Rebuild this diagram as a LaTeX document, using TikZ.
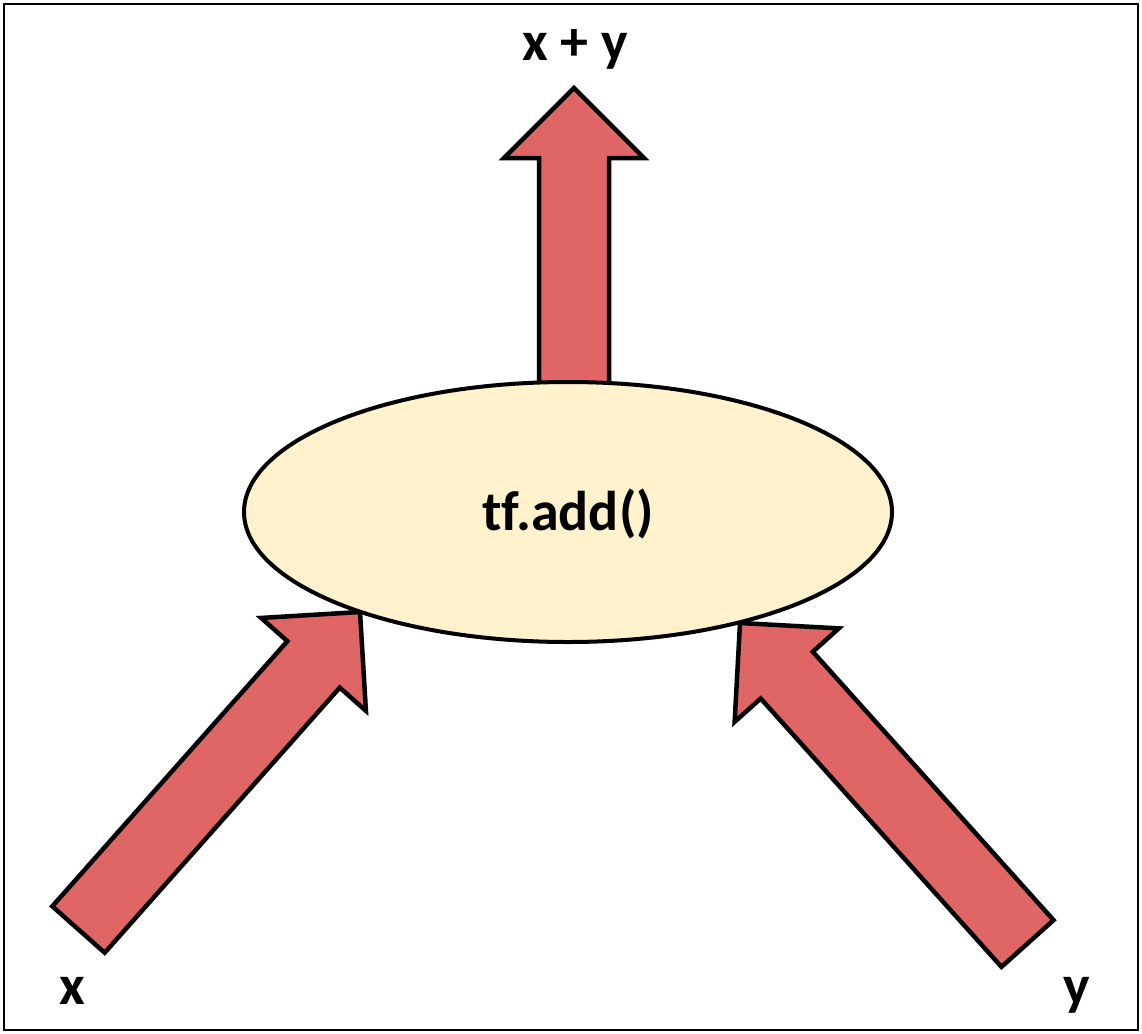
\documentclass[tikz,border=0pt]{standalone}
\usepackage{fontspec}
\setmainfont{Carlito}[Ligatures=NoCommon]
\usepackage{tikz}
\usetikzlibrary{calc,shapes.geometric}

\definecolor{arrowred}{HTML}{E06666}
\definecolor{opyellow}{HTML}{FFF2CC}

\tikzset{
  blockarrow/.style={fill=arrowred, draw=black, line width=4.5pt, line join=miter},
  opnode/.style={ellipse, draw=black, fill=opyellow, line width=4pt,
    minimum width=648pt, minimum height=260pt, inner sep=0pt,
    text height=40pt, text depth=4pt},
  lbl/.style={font=\fontsize{56}{60}\selectfont\bfseries, inner sep=0pt}
}

\begin{document}
\begin{tikzpicture}[x=1pt,y=-1pt]

\useasboundingbox (0,0) rectangle (1142,1033);
\draw [line width=2.5pt] (4,4) rectangle (1138,1030);

\coordinate (1) at (78.5,929.5);
\coordinate (2) at (360,612);
\coordinate (3) at (1027.5,943.5);
\coordinate (4) at (740,623);
\coordinate (5) at (574,430);
\coordinate (6) at (574,88);

\foreach \t/\p in {1/2,3/4,5/6} {
    \coordinate (b) at ($(\p)!70pt!(\t)$);
    \filldraw [blockarrow] ($(\t)!35pt!90:(\p)$) -- ($(b)!35pt!90:(\p)$)
        -- ($(b)!70pt!90:(\p)$) -- (\p) -- ($(b)!70pt!-90:(\p)$)
        -- ($(b)!35pt!-90:(\p)$) -- ($(\t)!35pt!-90:(\p)$) -- cycle;
}

\node [opnode, lbl] (add) at (568,512) {t\kern0pt f.add()};

\node [lbl, anchor=base] (sum) at (575,60) {x + y};
\node [lbl, anchor=base] (x) at (72,1004) {x};
\node [lbl, anchor=base] (y) at (1077,1004) {y};

\end{tikzpicture}
\end{document}
